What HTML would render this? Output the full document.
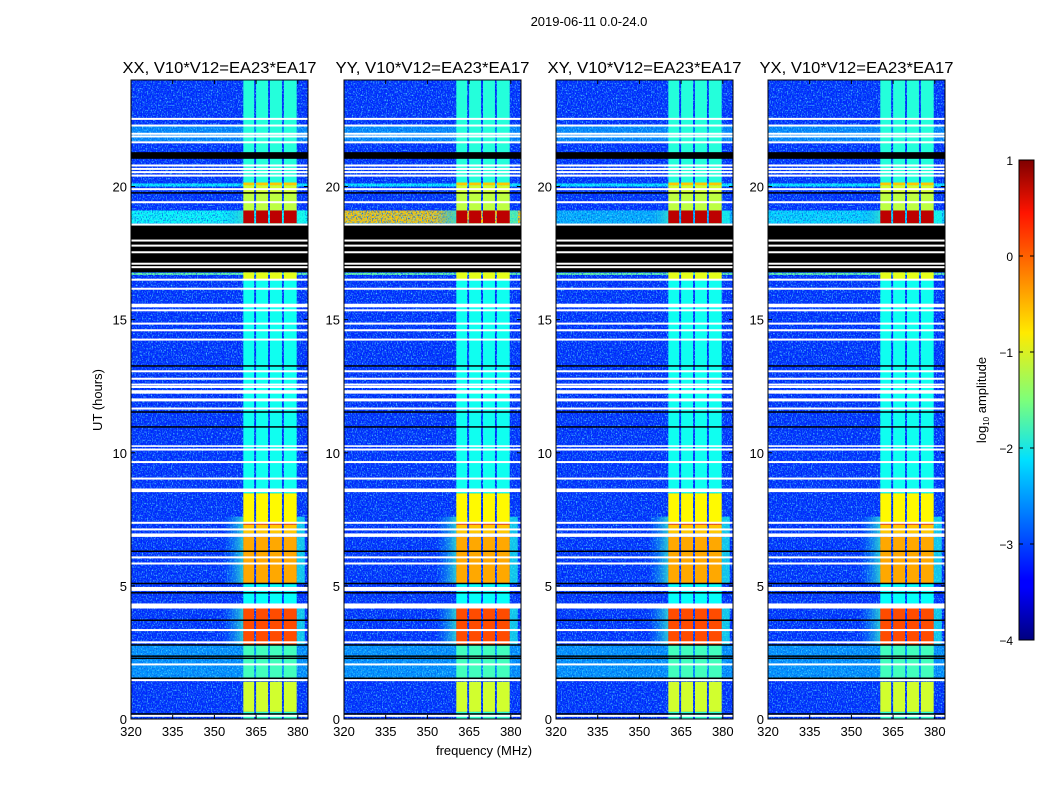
<!DOCTYPE html>
<html><head><meta charset="utf-8"><style>
html,body{margin:0;padding:0;background:#fff;}
svg{display:block;font-family:"Liberation Sans","DejaVu Sans",sans-serif;}
</style></head><body>
<svg id="fig" width="1050" height="800" viewBox="0 0 1050 800">
<defs>
<linearGradient id="jetgrad" x1="0" y1="1" x2="0" y2="0">
<stop offset="0" stop-color="#00007f"/><stop offset="0.11" stop-color="#0000ff"/><stop offset="0.125" stop-color="#0000ff"/>
<stop offset="0.34" stop-color="#00c0ff"/><stop offset="0.375" stop-color="#00e0ff"/><stop offset="0.5" stop-color="#7dff7a"/>
<stop offset="0.64" stop-color="#ffea00"/><stop offset="0.75" stop-color="#ff8c00"/><stop offset="0.89" stop-color="#ff1400"/><stop offset="1" stop-color="#7f0000"/>
</linearGradient>
<linearGradient id="haloL" x1="0" y1="0" x2="1" y2="0">
<stop offset="0" stop-color="#00a0ff" stop-opacity="0"/><stop offset="1" stop-color="#30e0d0" stop-opacity="0.85"/>
</linearGradient>
<filter id="noise" x="0" y="0" width="100%" height="100%">
<feTurbulence type="fractalNoise" baseFrequency="0.8 0.6" numOctaves="1" seed="3" result="t"/>
<feColorMatrix in="t" type="matrix" values="0 0 0 0 0.1  0 0 0 0 0.7  0 0 0 0 1  3 0 0 0 -1.45" result="n"/>
<feComposite in="n" in2="SourceGraphic" operator="in"/>
</filter>
<filter id="noiseDark" x="0" y="0" width="100%" height="100%">
<feTurbulence type="fractalNoise" baseFrequency="0.8 0.6" numOctaves="1" seed="9" result="t"/>
<feColorMatrix in="t" type="matrix" values="0 0 0 0 0  0 0 0 0 0.1  0 0 0 0 0.8  3 0 0 0 -1.4" result="n"/>
<feComposite in="n" in2="SourceGraphic" operator="in"/>
</filter>
</defs>
<text x="589" y="26" font-size="13" text-anchor="middle">2019-06-11 0.0-24.0</text>
<text transform="translate(102,400) rotate(-90)" font-size="13" text-anchor="middle">UT (hours)</text>
<text x="484" y="755" font-size="13" text-anchor="middle">frequency (MHz)</text>
<g id="panels"></g>
<g>
<rect x="1019" y="160" width="15" height="480" fill="url(#jetgrad)" stroke="#000" stroke-width="1"/>
<g id="cbticks"></g>
<text transform="translate(986,400) rotate(-90)" font-size="13" text-anchor="middle">log<tspan font-size="8" dy="3">10</tspan><tspan dy="-3"> amplitude</tspan></text>
</g>
</svg>
<script>
const panelTitles = ["XX, V10*V12=EA23*EA17","YY, V10*V12=EA23*EA17","XY, V10*V12=EA23*EA17","YX, V10*V12=EA23*EA17"];
const panelLefts = [131, 344, 556, 768];
const xTicks = [320, 335, 350, 365, 380];
const yTicks = [0, 5, 10, 15, 20];
const cbTicks = [1, 0, -1, -2, -3, -4];
const strips = [[360.4,364.3],[365,369.3],[370,374.3],[375,379.6]];
// [t0, t1, log10 amplitude in strips]
const stripBands = [[0,0.27,-1.9],[0.27,1.40,-1.1],[1.46,2.78,-1.8],[2.78,4.15,0.0],[4.34,4.81,-2.1],[4.96,5.09,-2.1],[5.09,6.84,-0.45],[6.97,7.3,-0.6],[7.3,7.4,0.1],[7.4,8.48,-0.85],[8.48,12.0,-2.05],[12.0,16.5,-2.05],[16.5,16.78,-1.0],[18.54,18.62,-1.3],[18.62,19.1,0.7],[19.1,19.76,-1.2],[19.76,20.05,-1.1],[20.05,20.15,-0.6],[20.15,24,-1.95]];
// [t0, t1, background level]
const bgBands = [[0,1.46,-3.2],[1.53,2.78,-2.65],[2.78,16.8,-3.2],[16.68,16.76,-1.6],[18.54,18.62,-2.0],[19.1,20.0,-3.2],[20.0,20.12,-2.2],[20.12,21.7,-3.2],[21.7,22.3,-2.7],[22.3,24,-3.2]];
const redRowBg = [-2.1, -0.6, -2.5, -2.3];
const haloBands = [[2.78,4.15],[5.09,6.84],[6.97,7.6],[18.62,19.1]];
const blackBlocks = [[16.78,18.54],[21.04,21.29]];
const whiteBlocks = [[4.15,4.34],[4.81,4.96],[6.84,6.97],[12.22,12.35],[11.93,12.04],[10.22,10.28]];
const whiteRows = [22.54,22.29,21.98,21.88,21.66,20.79,20.66,20.54,20.41,19.9,19.41,18.57,17.97,17.78,17.53,17.1,16.97,16.5,16.16,15.56,15.5,15.35,14.85,14.6,14.25,13.06,12.78,12.56,12.47,11.66,10.12,9.65,9.03,8.62,8.56,7.37,7.12,6.07,5.84,3.34,2.88,2.05,1.46,0.12];
const blackRows = [19.76,13.26,11.53,10.97,6.3,5.09,4.74,3.71,2.78,2.36,2.28,1.53,0.19,21.15];

const NS="http://www.w3.org/2000/svg";
const PW=177, PT=80, PB=719;
function yOf(t){return PB - t*(PB-PT)/24;}
function xOf(left,f){return left + (f-320)*2.78;}
function jet(v){const x=Math.max(0,Math.min(1,(v+4)/5));const c=a=>Math.round(255*Math.max(0,Math.min(1,1.5-Math.abs(4*x-a))));return `rgb(${c(3)},${c(2)},${c(1)})`;}
function mk(tag,attrs,parent){const e=document.createElementNS(NS,tag);for(const k in attrs)e.setAttribute(k,attrs[k]);parent.appendChild(e);return e;}
const panels=document.getElementById('panels');
panelLefts.forEach((L,pi)=>{
  const g=mk('g',{},panels);
  
  
  const R=L+PW;
  const bg=mk('rect',{x:L,y:PT,width:PW,height:PB-PT,fill:jet(-3.2)},g);
  
  
  bgBands.forEach(b=>{
    const r=mk('rect',{x:L,y:yOf(b[1]),width:PW,height:yOf(b[0])-yOf(b[1]),fill:jet(b[2])},g);
    
    
  });
  const rr=mk('rect',{x:L,y:yOf(19.1),width:PW,height:yOf(18.62)-yOf(19.1),fill:jet(redRowBg[pi])},g);
  
  
  const nz=mk('rect',{x:L,y:PT,width:PW,height:PB-PT,fill:'#fff',filter:'url(#noise)'},g);
  
  
  const nz2=mk('rect',{x:L,y:PT,width:PW,height:PB-PT,fill:'#fff',filter:'url(#noiseDark)'},g);
  
  
  haloBands.forEach(b=>{
    const h=mk('rect',{x:xOf(L,353),y:yOf(b[1]),width:xOf(L,360.4)-xOf(L,353),height:yOf(b[0])-yOf(b[1]),fill:'url(#haloL)'},g);
    
    
    const h2=mk('rect',{x:xOf(L,379.6),y:yOf(b[1]),width:xOf(L,382.5)-xOf(L,379.6),height:yOf(b[0])-yOf(b[1]),fill:jet(-2.0),opacity:0.7},g);
    
    
  });
  stripBands.forEach(b=>{
    strips.forEach(s=>{
      const r=mk('rect',{x:xOf(L,s[0]),y:yOf(b[1]),width:xOf(L,s[1])-xOf(L,s[0]),height:yOf(b[0])-yOf(b[1]),fill:jet(b[2])},g);
      
      
    });
  });
  blackBlocks.forEach(b=>{
    const r=mk('rect',{x:L,y:yOf(b[1]),width:PW,height:yOf(b[0])-yOf(b[1]),fill:'#000'},g);
    
    
  });
  whiteBlocks.forEach(b=>{
    const r=mk('rect',{x:L,y:yOf(b[1]),width:PW,height:yOf(b[0])-yOf(b[1]),fill:'#fff'},g);
    
    
  });
  whiteRows.forEach(t=>{
    const r=mk('rect',{x:L,y:yOf(t)-1,width:PW,height:2,fill:'#fff'},g);
    
    
  });
  blackRows.forEach(t=>{
    const r=mk('rect',{x:L,y:yOf(t)-0.75,width:PW,height:1.5,fill:'#000'},g);
    
    
  });
  const fr=mk('rect',{x:L,y:PT,width:PW,height:PB-PT,fill:'none',stroke:'#000','stroke-width':1},g);
  
  
  const tt=mk('text',{x:L+PW/2,y:73,'font-size':16,'text-anchor':'middle',textLength:194,lengthAdjust:'spacingAndGlyphs'},g);
  tt.textContent=panelTitles[pi];
  
  
  xTicks.forEach(f=>{
    const x=xOf(L,f);
    mk('line',{x1:x,x2:x,y1:PB,y2:PB-4,stroke:'#000'},g);
    mk('line',{x1:x,x2:x,y1:PT,y2:PT+4,stroke:'#000'},g);
    const t=mk('text',{x:x,y:PB+17,'font-size':13,'text-anchor':'middle'},g);
    t.textContent=f;
    
    
  });
  yTicks.forEach(v=>{
    const y=yOf(v);
    mk('line',{x1:L,x2:L+4,y1:y,y2:y,stroke:'#000'},g);
    mk('line',{x1:R,x2:R-4,y1:y,y2:y,stroke:'#000'},g);
    const t=mk('text',{x:L-4,y:y+5,'font-size':13,'text-anchor':'end'},g);
    t.textContent=v;
    
    
  });
});
const cbt=document.getElementById('cbticks');
cbTicks.forEach(v=>{
  const y=160+(1-v)*96;
  mk('line',{x1:1019,x2:1023,y1:y,y2:y,stroke:'#000'},cbt);
  mk('line',{x1:1034,x2:1030,y1:y,y2:y,stroke:'#000'},cbt);
  const t=mk('text',{x:1013,y:y+5,'font-size':12,'text-anchor':'end'},cbt);
  t.textContent=v<0?'\u2212'+(-v):String(v);
  
  
});
</script>
</body></html>
